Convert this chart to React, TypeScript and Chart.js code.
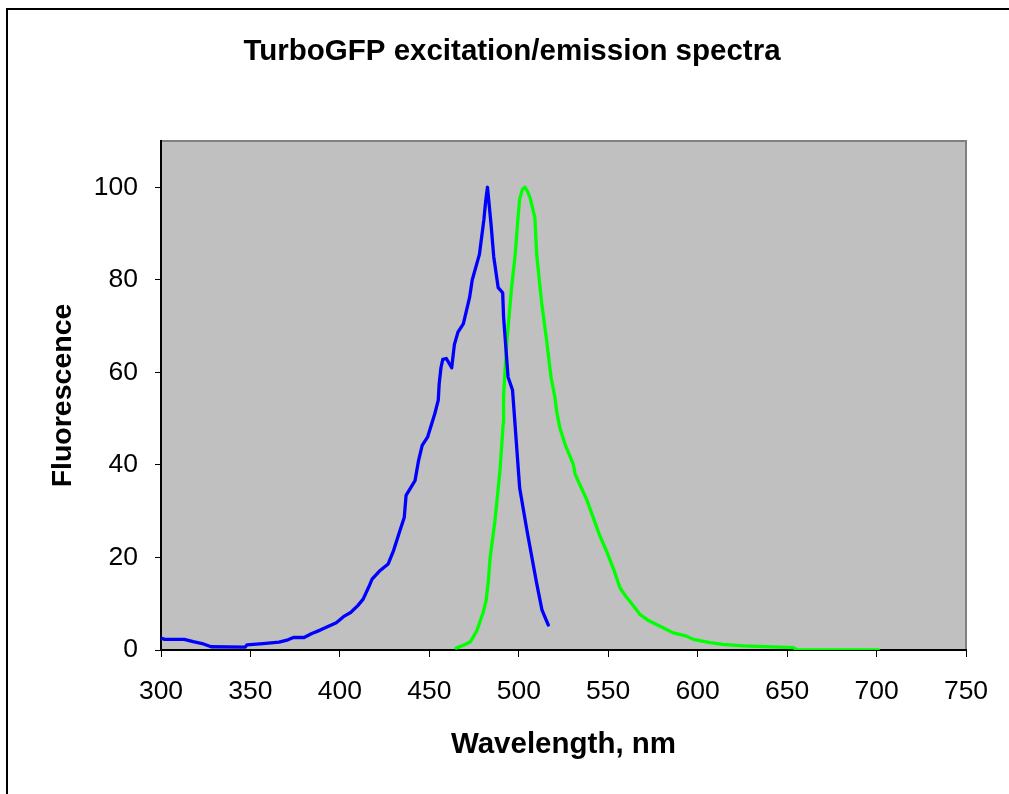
import React, { useEffect, useRef } from "react";
import { Chart, registerables } from "chart.js";

Chart.register(...registerables);

const TITLE = "TurboGFP excitation/emission spectra";
const X_TITLE = "Wavelength, nm";
const Y_TITLE = "Fluorescence";

const excitationWl = [
  300, 302, 313, 318, 323, 328, 347, 348, 357, 366, 371, 374, 380, 384, 389, 398, 402, 406, 410, 413,
  416, 418, 422, 427, 430, 433, 436, 437, 442, 444, 446, 449, 453, 455, 455.5, 456.5, 457.5, 459.5,
  462.5, 464, 466, 469, 472.5, 474, 478, 479.5, 480.5, 481.5, 482.5, 483.5, 484.5, 486, 488.5, 491,
  491.5, 494, 496.5, 500.5, 504.5, 510, 513, 516.5,
];
const excitationVal = [
  2.6, 2.3, 2.3, 1.8, 1.4, 0.7, 0.6, 1.1, 1.4, 1.7, 2.2, 2.7, 2.7, 3.5, 4.3, 5.9, 7.2, 8.1, 9.6, 11.0,
  13.5, 15.3, 17.0, 18.6, 21.5, 25.1, 28.7, 33.4, 36.6, 41.0, 44.2, 46.0, 51.0, 54.0, 57.5, 61, 62.8, 63,
  61, 66, 68.7, 70.5, 76.2, 80, 85.5, 90, 93, 97, 100, 96, 92, 85, 78.3, 77.2,
  72, 59, 56.2, 35, 26, 14.4, 8.6, 5.4,
];

const emissionWl = [
  465, 470, 473, 476.5, 480, 481.7, 483, 484, 486.7, 489.5, 491.3, 491.5, 493.2, 496, 498, 499.7, 500.5,
  502, 503.5, 505, 506.5, 509, 510, 512.8, 515.6, 518, 520.2, 521.2, 523, 525.8, 530.5, 531.5, 535, 538,
  541.6, 545, 549, 553, 556.6, 560, 562, 567.7, 572, 577, 586.4, 593.8, 597.5, 607, 614, 625.5, 653.5,
  655.3, 701,
];
const emissionVal = [
  0.4, 1.2, 1.8, 4.1, 8, 10.6, 15, 20, 28, 38.8, 49, 55, 66, 78.4, 85.5, 94, 97.5,
  99.5, 100, 99, 97.5, 93.4, 85.5, 75, 66.8, 59, 54.6, 51.5, 48, 44.5, 40.1, 38, 35, 32.5,
  28.6, 25, 21.4, 17.5, 13.4, 11.5, 10.6, 7.7, 6.5, 5.5, 3.7, 3, 2.3, 1.6, 1.2, 0.9, 0.5,
  0.1, 0,
];

const X_MIN = 300;
const X_MAX = 750;
const X_STEP = 50;
const Y_MIN = 0;
const Y_MAX = 110;
const Y_STEP = 20;

const FONT = "'Liberation Sans', Arial, Helvetica, sans-serif";

const bgPlugin = {
  id: "bgPlugin",
  beforeDraw(chart: any) {
    const { ctx, chartArea: a, width, height } = chart;
    ctx.save();
    ctx.fillStyle = "#ffffff";
    ctx.fillRect(0, 0, width, height);
    ctx.strokeStyle = "#000000";
    ctx.lineWidth = 2;
    ctx.beginPath();
    ctx.moveTo(width + 2, 9);
    ctx.lineTo(7, 9);
    ctx.lineTo(7, height + 2);
    ctx.stroke();
    ctx.fillStyle = "#C0C0C0";
    ctx.fillRect(a.left, a.top, a.right - a.left, a.bottom - a.top);
    ctx.strokeStyle = "#808080";
    ctx.lineWidth = 2;
    ctx.strokeRect(a.left, a.top, a.right - a.left, a.bottom - a.top);
    ctx.restore();
  },
};

export default function App() {
  const ref = useRef<HTMLCanvasElement | null>(null);

  useEffect(() => {
    document.body.style.margin = "0";
    const canvas = ref.current;
    if (!canvas) return;
    const lineStyle = {
      borderWidth: 3.3,
      pointRadius: 0,
      tension: 0,
      borderCapStyle: "round",
      borderJoinStyle: "round",
    };
    const chart = new Chart(canvas, {
      type: "line",
      data: {
        datasets: [
          {
            label: "Excitation",
            data: excitationWl.map((x, i) => ({ x, y: excitationVal[i] })),
            borderColor: "#0000FF",
            backgroundColor: "#0000FF",
            ...lineStyle,
          },
          {
            label: "Emission",
            data: emissionWl.map((x, i) => ({ x, y: emissionVal[i] })),
            borderColor: "#00FF00",
            backgroundColor: "#00FF00",
            ...lineStyle,
          },
        ],
      },
      options: {
        animation: false,
        responsive: false,
        maintainAspectRatio: false,
        layout: { padding: { left: 15, right: 0, top: 0, bottom: 0 } },
        plugins: {
          legend: { display: false },
          tooltip: { enabled: false },
          title: {
            display: true,
            text: TITLE,
            color: "#000000",
            font: { family: FONT, size: 29.5, weight: "bold" },
            padding: { top: 34.3, bottom: 71.3 },
          },
        },
        scales: {
          x: {
            type: "linear",
            min: X_MIN,
            max: X_MAX,
            ticks: {
              stepSize: X_STEP,
              color: "#000000",
              font: { family: FONT, size: 26.5 },
              padding: 19,
              maxRotation: 0,
            },
            grid: {
              display: true,
              drawOnChartArea: false,
              drawTicks: true,
              tickLength: 7,
              color: "#000000",
              lineWidth: 1,
            },
            border: { display: true, color: "#000000", width: 2 },
            title: {
              display: true,
              text: X_TITLE,
              color: "#000000",
              font: { family: FONT, size: 29.5, weight: "bold" },
              padding: { top: 0, bottom: 31 },
            },
            afterFit: (s: any) => {
              s.height = 144;
            },
          },
          y: {
            type: "linear",
            position: "left",
            min: Y_MIN,
            max: Y_MAX,
            ticks: {
              stepSize: Y_STEP,
              includeBounds: false,
              color: "#000000",
              font: { family: FONT, size: 26.5 },
              padding: 17,
            },
            grid: {
              display: true,
              drawOnChartArea: false,
              drawTicks: true,
              tickLength: 6,
              color: "#000000",
              lineWidth: 1,
            },
            border: { display: true, color: "#000000", width: 2 },
            title: {
              display: true,
              text: Y_TITLE,
              color: "#000000",
              font: { family: FONT, size: 28.5, weight: "bold" },
              padding: { top: 31, bottom: 0 },
            },
            afterFit: (s: any) => {
              s.width = 146;
            },
          },
          yRight: {
            type: "linear",
            position: "right",
            min: Y_MIN,
            max: Y_MAX,
            display: true,
            ticks: { display: false },
            grid: { display: false, drawTicks: false },
            border: { display: false },
            title: { display: false },
            afterFit: (s: any) => {
              s.width = 43;
            },
          },
        },
      },
      plugins: [bgPlugin],
    } as any);
    return () => chart.destroy();
  }, []);

  return (
    <div style={{ width: 1009, height: 794 }}>
      <canvas ref={ref} width={1009} height={794} style={{ width: 1009, height: 794, display: "block" }} />
    </div>
  );
}
